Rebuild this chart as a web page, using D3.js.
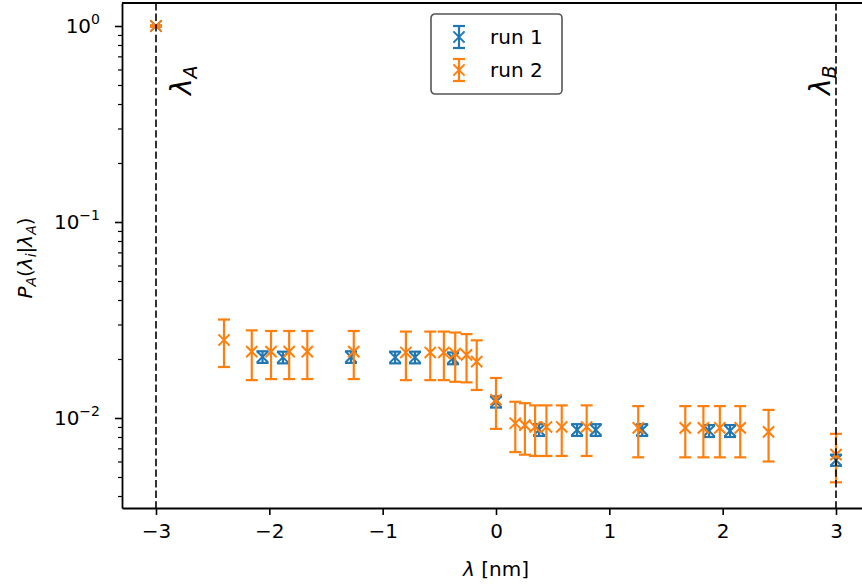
<!DOCTYPE html>
<html>
<head>
<meta charset="utf-8">
<script src="https://cdn.jsdelivr.net/npm/d3@7"></script>
<style>
  body { margin: 0; background: #fff; }
  text { font-family: "DejaVu Sans", sans-serif; fill: #000; }
</style>
</head>
<body>
<svg id="chart" width="862" height="588"></svg>
<script>
// ---- data ----
var seriesNames = ["run 1", "run 2"];
var seriesColors = ["#1f77b4", "#ff7f0e"];

var run1X   = [-3, -2.06, -1.88, -1.28, -0.89, -0.715, -0.38, 0, 0.38, 0.715, 0.88, 1.29, 1.88, 2.065, 3];
var run1Y   = [1.0, 0.0205, 0.0204, 0.0205, 0.0204, 0.0204, 0.0202, 0.0121, 0.0087, 0.0087, 0.0087, 0.0087, 0.0086, 0.0086, 0.0061];
var run1Err = [0.005, 0.0014, 0.0014, 0.0014, 0.0014, 0.0014, 0.0014, 0.0008, 0.0006, 0.0006, 0.0006, 0.0006, 0.0006, 0.0006, 0.0004];

var run2X   = [-3, -2.40, -2.155, -1.985, -1.825, -1.665, -1.255, -0.795, -0.58, -0.46, -0.36, -0.26, -0.17, 0, 0.17, 0.255, 0.345, 0.445, 0.58, 0.80, 1.255, 1.67, 1.83, 1.975, 2.155, 2.405, 3];
var run2Y   = [1.0, 0.0250, 0.0218, 0.0218, 0.0218, 0.0218, 0.0218, 0.0216, 0.0216, 0.0216, 0.0213, 0.0210, 0.0194, 0.0124, 0.0094, 0.0092, 0.0090, 0.0090, 0.0090, 0.0090, 0.0089, 0.0089, 0.0089, 0.0089, 0.0089, 0.0085, 0.0065];
var run2Err = [0.008, 0.0068, 0.0062, 0.006, 0.006, 0.006, 0.006, 0.006, 0.006, 0.006, 0.006, 0.0058, 0.0055, 0.0036, 0.0027, 0.0027, 0.0026, 0.0026, 0.0026, 0.0026, 0.0026, 0.0026, 0.0026, 0.0026, 0.0026, 0.0025, 0.0018];

var xTicks = [-3, -2, -1, 0, 1, 2, 3];
var yTicks = [1, 0.1, 0.01];
var yTickExp = ["0", "\u22121", "\u22122"];
var endpointX = [-3, 3];          // dashed vertical lines
var endpointLabels = ["A", "B"];  // lambda_A, lambda_B

// ---- layout ----
var svg = d3.select("#chart");
var plotLeft = 122, plotRight = 870, plotTop = 3, plotBottom = 508;

var x = d3.scaleLinear().domain([-3.3, 3.3]).range([plotLeft, plotRight]);
var y = d3.scaleLog()
    .domain([Math.pow(10, -482 / 196), Math.pow(10, 23 / 196)])
    .range([plotBottom, plotTop]);

function fmtMinus(d) { return d < 0 ? "\u2212" + Math.abs(d) : "" + d; }

// ---- data (errorbars) ----
function drawSeries(xs, ys, errs, color) {
    var g = svg.append("g");
    var cap = 6, m = 5.6;
    xs.forEach(function(xv, i) {
        var cx = x(xv), cy = y(ys[i]);
        if (errs[i] > 0) {
            var y1 = y(ys[i] + errs[i]), y2 = y(ys[i] - errs[i]);
            g.append("line").attr("x1", cx).attr("x2", cx).attr("y1", y1).attr("y2", y2)
                .attr("stroke", color).attr("stroke-width", 2.2);
            [y1, y2].forEach(function(yy) {
                g.append("line").attr("x1", cx - cap).attr("x2", cx + cap).attr("y1", yy).attr("y2", yy)
                    .attr("stroke", color).attr("stroke-width", 2.2);
            });
        }
        g.append("path")
            .attr("d", "M" + (cx - m) + "," + (cy - m) + "L" + (cx + m) + "," + (cy + m) +
                       "M" + (cx - m) + "," + (cy + m) + "L" + (cx + m) + "," + (cy - m))
            .attr("stroke", color).attr("stroke-width", 2).attr("fill", "none");
    });
}
drawSeries(run1X, run1Y, run1Err, seriesColors[0]);
drawSeries(run2X, run2Y, run2Err, seriesColors[1]);

// dashed lines at the end states
endpointX.forEach(function(v) {
    svg.append("line")
        .attr("x1", x(v)).attr("x2", x(v)).attr("y1", plotTop).attr("y2", plotBottom)
        .attr("stroke", "#000").attr("stroke-width", 1.6)
        .attr("stroke-dasharray", "7.4,3.2");
});

// lambda labels (rotated)
var lamPos = [[x(endpointX[0]) + 35, 95], [x(endpointX[1]) - 6, 95]];
endpointLabels.forEach(function(s, i) {
    var t = svg.append("text")
        .attr("transform", "translate(" + lamPos[i][0] + "," + lamPos[i][1] + ") rotate(-90)")
        .attr("font-size", 28);
    t.append("tspan").attr("font-style", "italic").text("\u03bb");
    t.append("tspan").attr("font-style", "italic").attr("font-size", 19).attr("dy", 6).text(s);
});

// ---- axes ----
var xAxis = svg.append("g").attr("transform", "translate(0," + plotBottom + ")")
    .call(d3.axisBottom(x).tickValues(xTicks).tickSize(7).tickSizeOuter(0).tickPadding(9).tickFormat(fmtMinus));
xAxis.selectAll("text").attr("font-size", 20).attr("font-family", "DejaVu Sans");
xAxis.selectAll("line").attr("stroke-width", 1.6);
xAxis.select(".domain").attr("stroke-width", 1.8);

var minors = [];
[-3, -2, -1, 0].forEach(function(k) {
    for (var mm = 2; mm <= 9; mm++) {
        var v = mm * Math.pow(10, k);
        if (v > y.domain()[0] && v < y.domain()[1]) minors.push(v);
    }
});
var yMinor = svg.append("g").attr("transform", "translate(" + plotLeft + ",0)")
    .call(d3.axisLeft(y).tickValues(minors).tickSize(4).tickSizeOuter(0).tickFormat(""));
yMinor.select(".domain").remove();
yMinor.selectAll("line").attr("stroke-width", 1.2);

var yAxis = svg.append("g").attr("transform", "translate(" + plotLeft + ",0)")
    .call(d3.axisLeft(y).tickValues(yTicks).tickSize(7).tickSizeOuter(0).tickFormat(""));
yAxis.selectAll("line").attr("stroke-width", 1.6);
yAxis.select(".domain").attr("stroke-width", 1.8);
yTicks.forEach(function(v, i) {
    var t = svg.append("text")
        .attr("x", 100).attr("y", y(v) + 7)
        .attr("text-anchor", "end").attr("font-size", 20);
    t.append("tspan").text("10");
    t.append("tspan").attr("font-size", 14).attr("dy", -9).text(yTickExp[i]);
});

// top spine
svg.append("line").attr("x1", plotLeft).attr("x2", plotRight).attr("y1", plotTop).attr("y2", plotTop)
    .attr("stroke", "#000").attr("stroke-width", 1.8);

// axis labels
var xl = svg.append("text").attr("x", x(0)).attr("y", 576)
    .attr("text-anchor", "middle").attr("font-size", 20);
xl.append("tspan").attr("font-style", "italic").text("\u03bb");
xl.append("tspan").text(" [nm]");

var yl = svg.append("text")
    .attr("transform", "translate(32,258) rotate(-90)")
    .attr("text-anchor", "middle").attr("font-size", 20);
yl.append("tspan").attr("font-style", "italic").text("P");
yl.append("tspan").attr("font-style", "italic").attr("font-size", 14).attr("dy", 4).text("A");
yl.append("tspan").attr("dy", -4).text("(");
yl.append("tspan").attr("font-style", "italic").text("\u03bb");
yl.append("tspan").attr("font-style", "italic").attr("font-size", 14).attr("dy", 4).text("i");
yl.append("tspan").attr("dy", -4).text("|");
yl.append("tspan").attr("font-style", "italic").text("\u03bb");
yl.append("tspan").attr("font-style", "italic").attr("font-size", 14).attr("dy", 4).text("A");
yl.append("tspan").attr("dy", -4).text(")");

// ---- legend ----
var lg = svg.append("g").attr("transform", "translate(431,14)");
lg.append("rect").attr("width", 131).attr("height", 80).attr("rx", 4)
    .attr("fill", "#fff").attr("stroke", "#555").attr("stroke-width", 1.6);
seriesNames.forEach(function(name, i) {
    var cy = 23 + i * 33, cx = 28, c = seriesColors[i];
    lg.append("line").attr("x1", cx).attr("x2", cx).attr("y1", cy - 11).attr("y2", cy + 11)
        .attr("stroke", c).attr("stroke-width", 2.2);
    [cy - 11, cy + 11].forEach(function(yy) {
        lg.append("line").attr("x1", cx - 6).attr("x2", cx + 6).attr("y1", yy).attr("y2", yy)
            .attr("stroke", c).attr("stroke-width", 2.2);
    });
    lg.append("path")
        .attr("d", "M" + (cx - 5.6) + "," + (cy - 5.6) + "L" + (cx + 5.6) + "," + (cy + 5.6) +
                   "M" + (cx - 5.6) + "," + (cy + 5.6) + "L" + (cx + 5.6) + "," + (cy - 5.6))
        .attr("stroke", c).attr("stroke-width", 2).attr("fill", "none");
    lg.append("text").attr("x", 59).attr("y", cy + 7).attr("font-size", 20).text(name);
});
</script>
</body>
</html>
